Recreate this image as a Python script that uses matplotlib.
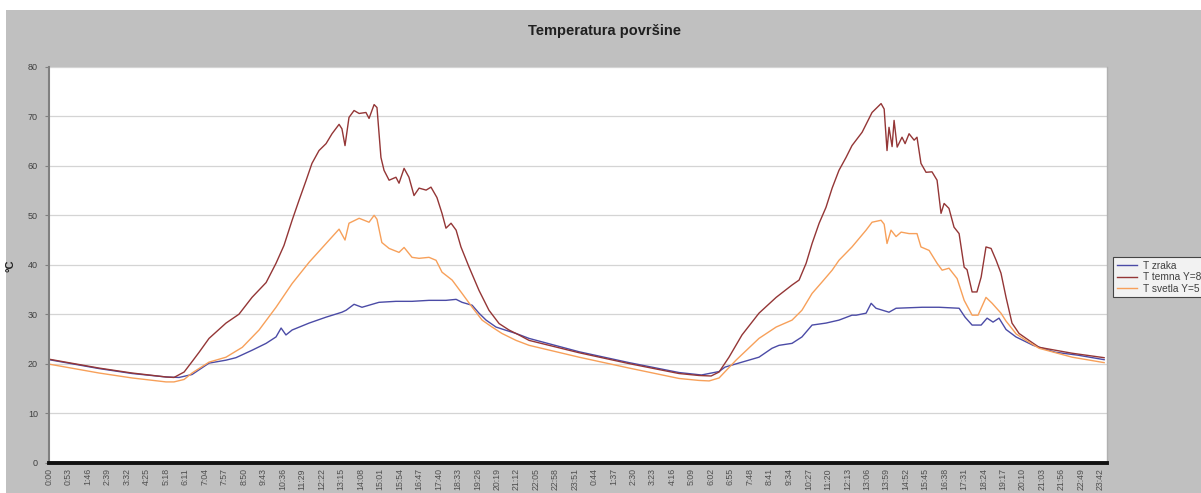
import matplotlib
matplotlib.use("Agg")
import matplotlib.pyplot as plt
from matplotlib.patches import Rectangle
from matplotlib.lines import Line2D

plt.rcParams['font.family'] = ['Liberation Sans', 'DejaVu Sans']

title = "Temperatura površine"
y_label = "°C"
series_names = ["T zraka", "T temna Y=8", "T svetla Y=5"]

tick_labels = ["0:00", "0:53", "1:46", "2:39", "3:32", "4:25", "5:18", "6:11", "7:04", "7:57",
               "8:50", "9:43", "10:36", "11:29", "12:22", "13:15", "14:08", "15:01", "15:54",
               "16:47", "17:40", "18:33", "19:26", "20:19", "21:12", "22:05", "22:58", "23:51",
               "0:44", "1:37", "2:30", "3:23", "4:16", "5:09", "6:02", "6:55", "7:48", "8:41",
               "9:34", "10:27", "11:20", "12:13", "13:06", "13:59", "14:52", "15:45", "16:38",
               "17:31", "18:24", "19:17", "20:10", "21:03", "21:56", "22:49", "23:42"]
tick_hours = [0.0, 0.883, 1.767, 2.65, 3.533, 4.417, 5.3, 6.183, 7.067, 7.95, 8.833, 9.717,
              10.6, 11.483, 12.367, 13.25, 14.133, 15.017, 15.9, 16.783, 17.667, 18.55, 19.433,
              20.317, 21.2, 22.083, 22.967, 23.85, 24.733, 25.617, 26.5, 27.383, 28.267, 29.15,
              30.033, 30.917, 31.8, 32.683, 33.567, 34.45, 35.333, 36.217, 37.1, 37.983, 38.867,
              39.75, 40.633, 41.517, 42.4, 43.283, 44.167, 45.05, 45.933, 46.817, 47.7]

# T zraka (air)
air_h = [0.0, 2.27, 3.77, 5.31, 5.90, 6.49, 7.26, 8.03, 8.48, 9.21, 9.85, 10.30, 10.53, 10.75,
         11.03, 11.80, 12.57, 13.29, 13.48, 13.84, 14.20, 14.97, 15.74, 16.47, 17.24, 18.01,
         18.47, 18.74, 19.20, 19.51, 19.83, 20.28, 20.69, 21.19, 21.78, 24.05, 26.32, 28.58,
         29.60, 30.40, 30.67, 31.44, 32.21, 32.80, 33.12, 33.71, 34.16, 34.62, 35.25, 35.84,
         36.43, 36.62, 37.07, 37.30, 37.52, 38.11, 38.43, 39.61, 40.38, 41.29, 41.56, 41.88,
         42.29, 42.56, 42.83, 43.10, 43.42, 43.87, 44.65, 45.66, 46.69, 47.87]
air_t = [20.8, 19.0, 18.0, 17.3, 17.2, 17.8, 20.1, 20.7, 21.2, 22.7, 24.1, 25.4, 27.2, 25.8,
         26.8, 28.2, 29.4, 30.4, 30.8, 32.0, 31.4, 32.4, 32.6, 32.6, 32.8, 32.8,
         33.0, 32.4, 31.8, 30.2, 28.8, 27.4, 26.8, 26.1, 25.1, 22.4, 20.2, 18.2,
         17.7, 18.4, 19.3, 20.3, 21.3, 23.1, 23.7, 24.1, 25.4, 27.8, 28.2, 28.8,
         29.8, 29.8, 30.2, 32.2, 31.2, 30.4, 31.2, 31.4, 31.4, 31.2, 29.4, 27.8,
         27.8, 29.2, 28.4, 29.2, 26.9, 25.4, 23.7, 22.3, 21.7, 20.8]

# T temna Y=8 (dark surface)
dark_h = [0.0, 2.27, 3.77, 5.31, 5.67, 6.13, 6.49, 6.81, 7.26, 8.03, 8.62, 9.21, 9.85, 10.30,
          10.66, 11.03, 11.34, 11.66, 11.93, 12.25, 12.57, 12.84, 13.16, 13.29, 13.43, 13.61,
          13.84, 14.07, 14.38, 14.52, 14.75, 14.88, 15.06, 15.20, 15.43, 15.74, 15.88, 16.11,
          16.33, 16.56, 16.79, 17.11, 17.33, 17.60, 17.83, 18.01, 18.24, 18.47, 18.69, 19.06,
          19.51, 19.96, 20.42, 20.87, 21.32, 21.78, 24.05, 26.32, 28.58, 29.49, 30.04, 30.40,
          30.85, 31.44, 32.21, 32.99, 33.71, 34.03, 34.35, 34.62, 34.94, 35.25, 35.53, 35.84,
          36.16, 36.43, 36.89, 37.34, 37.75, 37.89, 38.02, 38.11, 38.25, 38.34, 38.48, 38.70,
          38.84, 39.02, 39.25, 39.38, 39.56, 39.79, 40.06, 40.29, 40.47, 40.61, 40.83, 41.06,
          41.29, 41.52, 41.65, 41.88, 42.10, 42.29, 42.51, 42.74, 42.97, 43.19, 43.42, 43.69,
          44.01, 44.46, 44.92, 46.42, 47.87]
dark_t = [20.9, 19.1, 18.1, 17.3, 17.2, 18.3, 20.4, 22.3, 25.1, 28.2, 30.0, 33.4, 36.4, 40.3,
          43.9, 49.0, 53.0, 57.0, 60.5, 63.1, 64.5, 66.5, 68.4, 67.5, 64.1, 69.8,
          71.2, 70.6, 70.8, 69.6, 72.4, 71.8, 61.7, 59.1, 57.1, 57.7, 56.5, 59.5,
          57.7, 54.0, 55.5, 55.1, 55.7, 53.6, 50.4, 47.4, 48.4, 47.0, 43.6, 39.5,
          34.8, 30.8, 28.1, 26.8, 25.8, 24.7, 22.2, 20.0, 18.0, 17.6, 17.5, 18.3,
          21.3, 25.8, 30.2, 33.4, 35.9, 36.9, 40.3, 44.3, 48.4, 51.6, 55.5, 59.1,
          61.7, 64.1, 66.8, 70.8, 72.6, 71.5, 63.1, 67.8, 63.9, 69.2, 63.8, 65.8,
          64.5, 66.5, 65.2, 65.8, 60.5, 58.7, 58.8, 57.1, 50.4, 52.4, 51.4, 47.6,
          46.3, 39.5, 39.0, 34.5, 34.5, 37.5, 43.6, 43.3, 40.9, 38.3, 33.4, 28.2,
          26.1, 24.7, 23.3, 22.1, 21.2]

# T svetla Y=5 (light surface)
light_h = [0.0, 2.27, 3.77, 5.31, 5.67, 6.13, 6.49, 7.26, 8.03, 8.77, 9.53, 10.30, 11.03, 11.80,
           12.57, 13.16, 13.43, 13.61, 14.07, 14.52, 14.75, 14.88, 15.10, 15.43, 15.88, 16.11,
           16.47, 16.79, 17.24, 17.56, 17.83, 18.29, 18.74, 19.20, 19.65, 20.10, 20.55, 21.19,
           21.78, 24.05, 26.32, 28.58, 29.49, 29.95, 30.40, 31.17, 32.21, 32.99, 33.71, 34.16,
           34.62, 35.07, 35.53, 35.84, 36.43, 37.07, 37.34, 37.75, 37.89, 38.02, 38.20, 38.43,
           38.66, 39.02, 39.38, 39.56, 39.93, 40.29, 40.52, 40.83, 41.20, 41.52, 41.88, 42.15,
           42.51, 42.79, 43.19, 43.42, 43.88, 44.33, 44.92, 46.42, 47.87]
light_t = [19.9, 18.1, 17.1, 16.3, 16.3, 16.8, 18.1, 20.3, 21.3, 23.3, 26.8, 31.4, 36.2, 40.5,
           44.3, 47.2, 45.0, 48.4, 49.4, 48.6, 50.0, 49.2, 44.5, 43.3, 42.5, 43.5,
           41.5, 41.3, 41.5, 40.9, 38.5, 36.9, 34.2, 31.4, 28.8, 27.4, 26.1, 24.7,
           23.7, 21.3, 19.1, 17.0, 16.6, 16.5, 17.1, 20.7, 25.1, 27.4, 28.8, 30.8,
           34.2, 36.5, 38.9, 40.9, 43.6, 47.0, 48.6, 49.0, 48.2, 44.3, 47.0, 45.7,
           46.6, 46.3, 46.3, 43.6, 42.9, 40.3, 38.9, 39.3, 37.2, 32.8, 29.8, 29.8,
           33.4, 32.2, 30.2, 28.6, 26.0, 24.7, 23.1, 21.3, 20.2]

colors = ["#4b4ba6", "#943636", "#f7a05a"]

W, H = 1201, 493
fig = plt.figure(figsize=(W / 100, H / 100), dpi=100)
fig.patch.set_facecolor("white")
fig.add_artist(Rectangle((6 / W, 0), 1 - 6 / W, (H - 10) / H, transform=fig.transFigure,
                         facecolor="#c0c0c0", edgecolor="none", zorder=-10))

left, right, top, bottom = 49, 1107, 67, 462.5
ax = fig.add_axes([left / W, (H - bottom) / H, (right - left) / W, (bottom - top) / H])
ax.set_facecolor("white")
ax.set_xlim(0, 48)
ax.set_ylim(0, 80)

ax.plot(air_h, air_t, color=colors[0], lw=1.0, label=series_names[0])
ax.plot(dark_h, dark_t, color=colors[1], lw=1.0, label=series_names[1])
ax.plot(light_h, light_t, color=colors[2], lw=1.0, label=series_names[2])

ax.set_yticks(range(0, 81, 10))
ax.yaxis.grid(True, color="#d4d4d4", lw=0.9)
ax.set_axisbelow(True)
ax.tick_params(axis="y", labelsize=6.5, labelcolor="#404040", length=3, color="#808080", pad=5)

ax.set_xticks(tick_hours)
ax.set_xticklabels(tick_labels, rotation=90, fontsize=6.3, color="#505050")
ax.tick_params(axis="x", length=0, pad=4)

ax.spines["top"].set_visible(False)
ax.spines["right"].set_color("#b0b0b0")
ax.spines["right"].set_linewidth(1.0)
ax.spines["left"].set_color("#808080")
ax.spines["left"].set_linewidth(1.5)
ax.spines["bottom"].set_color("#111111")
ax.spines["bottom"].set_linewidth(2.8)

fig.text(605 / W, 1 - 31 / H, title, ha="center", va="center", fontsize=10.5, fontweight="bold",
         color="#202020")
fig.text(11 / W, 1 - 266 / H, y_label, ha="center", va="center", fontsize=8, rotation=90,
         color="#202020", fontweight="bold")

handles = [Line2D([], [], color=c, lw=1.0) for c in colors]
leg = fig.legend(handles, series_names, loc="upper left", bbox_to_anchor=(1113 / W, 1 - 257 / H),
                 fontsize=7.3, frameon=True, fancybox=False, edgecolor="#202020",
                 borderpad=0.35, handlelength=2.0, handletextpad=0.6, labelspacing=0.15,
                 borderaxespad=0)
leg.get_frame().set_linewidth(0.8)
leg.get_frame().set_facecolor("white")
for t in leg.get_texts():
    t.set_color("#404040")

fig.savefig("out.png", dpi=100)
